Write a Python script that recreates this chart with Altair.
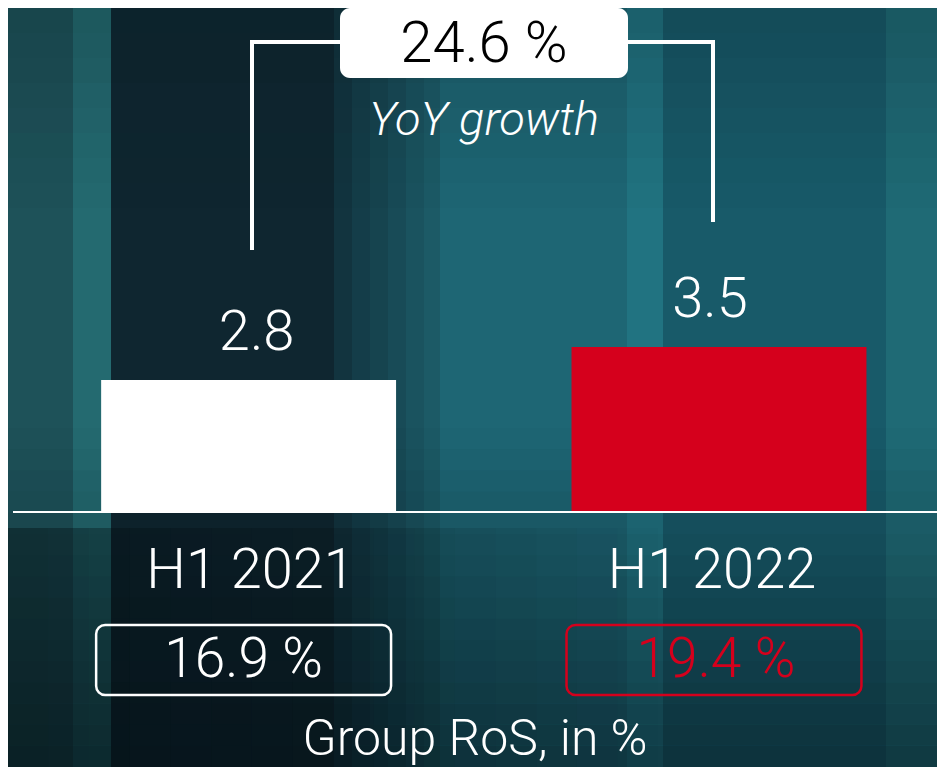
import altair as alt
import pandas as pd

# ---- data ----
periods = ["H1 2021", "H1 2022"]
values = [2.8, 3.5]
value_labels = ["2.8", "3.5"]
ros = [16.9, 19.4]
ros_labels = ["16.9 %", "19.4 %"]
growth_label = ["24.6 %"]
growth_caption = ["YoY growth"]
footer = ["Group RoS, in %"]

df = pd.DataFrame({"period": periods, "value": values, "vlabel": value_labels,
                   "ros": ros, "rlabel": ros_labels, "base": [0, 0]})
zero = pd.DataFrame({"base": [0]})
one = pd.DataFrame({"k": [0]})

W, H = 929, 759
FONT = "Roboto"
FW = 300
RED = "#d5001c"

xs = alt.X("period:N", scale=alt.Scale(domain=periods, paddingInner=0.373,
                                        paddingOuter=0.174, align=0.569), axis=None)
ys = alt.Y("value:Q", scale=alt.Scale(domain=[-5.41, 10.69], nice=False, zero=False), axis=None)
col_scale = alt.Scale(domain=periods, range=["#ffffff", RED])

layers = []


def band(x0, x1, y0, y1, color, opacity=1.0):
    return alt.Chart(one).mark_rect(fill=color, opacity=opacity).encode(
        x=alt.value(x0), x2=alt.value(x1), y=alt.value(y0), y2=alt.value(y1))


# background stripes (decoration)
stripes = [
    (0, 65, "#1e5259"), (65, 103, "#246a70"), (103, 326, "#0f2630"),
    (326, 344, "#12343f"), (344, 362, "#143d49"), (362, 380, "#16444f"),
    (380, 398, "#184b57"), (398, 416, "#1a535f"), (416, 432, "#1c5a66"),
    (432, 619, "#1e6674"), (619, 655, "#217381"),
    (655, 878, "#185a69"), (878, W, "#1f6a75"),
]
for a, b, c in stripes:
    layers.append(band(a, b, 0, H, c))

# darkening toward top (slight)
k = 8
for i in range(k):
    y0 = 200 * i / k
    y1 = 200 * (i + 1) / k
    layers.append(band(0, W, y0, y1, "#06161c", 0.22 * (1 - (i + 0.5) / k)))
# darkening toward bottom (stepped)
n = 16
for i in range(n):
    y0 = 420 + (H - 420) * i / n
    y1 = 420 + (H - 420) * (i + 1) / n
    layers.append(band(0, W, y0, y1, "#041016", 0.55 * (i + 0.5) / n))
# darkening toward bottom-left (stepped)
m = 16
for i in range(m):
    x0 = 650 * i / m
    x1 = 650 * (i + 1) / m
    layers.append(band(x0, x1, 520, H, "#030c10", 0.4 * (1 - (i + 0.5) / m)))

# bars
base = alt.Chart(df)
layers.append(base.mark_bar().encode(
    x=xs, y=ys, y2=alt.Y2("base:Q"),
    color=alt.Color("period:N", scale=col_scale, legend=None)))

# baseline
layers.append(alt.Chart(zero).mark_rule(color="#ffffff", strokeWidth=2).encode(
    x=alt.value(5), x2=alt.value(W), y=alt.Y("base:Q", axis=None)))

# per-label horizontal nudges (style)
value_dx = {"H1 2021": 8, "H1 2022": -9}
cat_dx = {"H1 2021": 2, "H1 2022": -7}
ros_dx = {"H1 2021": -5, "H1 2022": -3}

for p in periods:
    sub = base.transform_filter(alt.datum.period == p)
    # value labels
    layers.append(sub.mark_text(font=FONT, fontWeight=FW, fontSize=56, color="#ffffff",
                                baseline="alphabetic", dy=-30, dx=value_dx[p]).encode(
        x=xs, y=ys, text="vlabel:N"))
    # category labels
    layers.append(sub.mark_text(font=FONT, fontWeight=FW, fontSize=56, color="#ffffff",
                                baseline="alphabetic", dx=cat_dx[p]).encode(
        x=xs, y=alt.value(580), text="period:N"))
    # RoS labels
    layers.append(sub.mark_text(font=FONT, fontWeight=FW, fontSize=55, baseline="alphabetic",
                                dx=ros_dx[p]).encode(
        x=xs, y=alt.value(669), text="rlabel:N",
        color=alt.Color("period:N", scale=col_scale, legend=None)))

# RoS boxes
layers.append(base.mark_rect(fillOpacity=0, strokeWidth=2.5, cornerRadius=9, xOffset=-5).encode(
    x=xs, y=alt.value(617), y2=alt.value(687),
    stroke=alt.Stroke("period:N", scale=col_scale, legend=None)))

# growth bracket
bw = 4
layers.append(alt.Chart(one).mark_rule(color="#ffffff", strokeWidth=bw, strokeCap="square").encode(
    x=alt.value(244), y=alt.value(34), y2=alt.value(240)))
layers.append(alt.Chart(one).mark_rule(color="#ffffff", strokeWidth=bw, strokeCap="square").encode(
    x=alt.value(244), x2=alt.value(334), y=alt.value(34)))
layers.append(alt.Chart(one).mark_rule(color="#ffffff", strokeWidth=bw, strokeCap="square").encode(
    x=alt.value(618), x2=alt.value(705), y=alt.value(34)))
layers.append(alt.Chart(one).mark_rule(color="#ffffff", strokeWidth=bw, strokeCap="square").encode(
    x=alt.value(705), y=alt.value(34), y2=alt.value(212)))

# growth box
layers.append(alt.Chart(one).mark_rect(fill="#ffffff", cornerRadius=10).encode(
    x=alt.value(332), x2=alt.value(620), y=alt.value(0), y2=alt.value(70)))
layers.append(alt.Chart(pd.DataFrame({"t": growth_label})).mark_text(
    font=FONT, fontWeight=FW, fontSize=58, color="#000000", baseline="alphabetic").encode(
    x=alt.value(476), y=alt.value(54), text="t:N"))
layers.append(alt.Chart(pd.DataFrame({"t": growth_caption})).mark_text(
    font=FONT, fontWeight=FW, fontSize=47, fontStyle="italic", color="#ffffff",
    baseline="alphabetic").encode(
    x=alt.value(476), y=alt.value(127), text="t:N"))

# footer
layers.append(alt.Chart(pd.DataFrame({"t": footer})).mark_text(
    font=FONT, fontWeight=FW, fontSize=50, color="#ffffff", baseline="alphabetic").encode(
    x=alt.value(467), y=alt.value(747), text="t:N"))

chart = alt.layer(*layers).properties(
    width=W, height=H, padding=0,
    autosize=alt.AutoSizeParams(type="none"),
    background="#0f2630",
).configure_view(strokeWidth=0)

chart.save("out.html", embed_options={"renderer": "svg", "actions": False})
